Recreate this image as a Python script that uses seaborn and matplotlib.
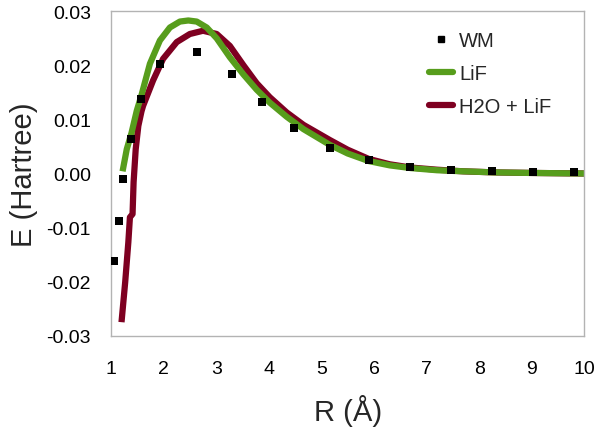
import matplotlib
matplotlib.use("Agg")
import matplotlib.pyplot as plt
import seaborn as sns
import pandas as pd
from matplotlib.lines import Line2D

# WM reference points
wm_r = [1.063, 1.152, 1.234, 1.375, 1.566, 1.933, 2.644, 3.30, 3.87, 4.486, 5.16,
        5.914, 6.68, 7.47, 8.25, 9.03, 9.81]
wm_e = [-0.0162, -0.0087, -0.0011, 0.0063, 0.0137, 0.0203, 0.0225, 0.0184, 0.0132,
        0.0085, 0.0048, 0.0025, 0.0012, 0.0006, 0.0004, 0.0003, 0.0002]

# LiF curve
lif_r = [1.22, 1.30, 1.39, 1.49, 1.58, 1.74, 1.93, 2.12, 2.31, 2.47, 2.63, 2.82,
         3.01, 3.26, 3.52, 3.77, 4.02, 4.34, 4.66, 5.16, 5.5, 5.9, 6.3, 6.7,
         7.2, 7.7, 8.3, 9.0, 10.0]
lif_e = [0.0004, 0.0045, 0.0075, 0.0116, 0.0145, 0.0203, 0.0246, 0.0270, 0.0281,
         0.0283, 0.0281, 0.0270, 0.0250, 0.0215, 0.0183, 0.0155, 0.0131, 0.0105,
         0.0082, 0.0053, 0.0037, 0.0023, 0.0015, 0.0010, 0.0006, 0.0004, 0.0002,
         0.0001, 0.0000]

# H2O + LiF curve
h2o_r = [1.20, 1.27, 1.33, 1.36, 1.41, 1.43, 1.47, 1.52, 1.58, 1.61, 1.80, 1.99,
         2.25, 2.50, 2.75, 3.01, 3.26, 3.52, 3.77, 4.02, 4.34, 4.66, 5.16, 5.5,
         5.9, 6.3, 6.7, 7.2, 7.7, 8.3, 9.0, 10.0]
h2o_e = [-0.0275, -0.0201, -0.0127, -0.0081, -0.0075, -0.0016, 0.0045, 0.0088,
         0.0115, 0.0125, 0.0172, 0.0212, 0.0243, 0.0258, 0.0264, 0.0258, 0.0236,
         0.0200, 0.0167, 0.0141, 0.0113, 0.0090, 0.0062, 0.0044, 0.0027, 0.0017,
         0.0011, 0.0007, 0.0004, 0.0002, 0.0001, 0.0000]

x_ticks = [1, 2, 3, 4, 5, 6, 7, 8, 9, 10]
y_ticks = [-0.03, -0.02, -0.01, 0.0, 0.01, 0.02, 0.03]
y_tick_labels = ["-0.03", "-0.02", "-0.01", "0.00", "0.01", "0.02", "0.03"]

GREEN = "#579d1c"
RED = "#7e0021"
GRAY = "#b3b3b3"

sns.set_style("white")
plt.rcParams["font.family"] = ["Liberation Sans", "DejaVu Sans"]

fig = plt.figure(figsize=(5.98, 4.31), dpi=100)
ax = fig.add_axes([0.1856, 0.2188, 0.7915, 0.7527])

df_lif = pd.DataFrame({"R": lif_r, "E": lif_e})
df_h2o = pd.DataFrame({"R": h2o_r, "E": h2o_e})
df_wm = pd.DataFrame({"R": wm_r, "E": wm_e})

sns.lineplot(data=df_lif, x="R", y="E", ax=ax, color=GREEN, lw=4.5,
             sort=False, estimator=None, solid_capstyle="butt")
sns.lineplot(data=df_h2o, x="R", y="E", ax=ax, color=RED, lw=4.5,
             sort=False, estimator=None, solid_capstyle="butt", zorder=1.9)
sns.scatterplot(data=df_wm, x="R", y="E", ax=ax, color="black", marker="s",
                s=26, linewidth=0, zorder=3)

ax.set_xlim(1, 10)
ax.set_ylim(-0.03, 0.03)
ax.set_xticks(x_ticks)
ax.set_xticklabels([str(t) for t in x_ticks])
ax.set_yticks(y_ticks)
ax.set_yticklabels(y_tick_labels)
ax.tick_params(axis="both", direction="out", length=7.5, width=1, color=GRAY,
               labelsize=14, labelcolor="black")
ax.tick_params(axis="x", pad=10)
ax.tick_params(axis="y", pad=7)
for sp in ax.spines.values():
    sp.set_color(GRAY)
    sp.set_linewidth(1)

ax.set_xlabel("R (Å)", fontsize=21, labelpad=12)
ax.set_ylabel("E (Hartree)", fontsize=21, labelpad=6)

handles = [
    Line2D([], [], color="black", marker="s", markersize=5, linestyle="none"),
    Line2D([], [], color=GREEN, lw=4.5),
    Line2D([], [], color=RED, lw=4.5),
]
ax.legend(handles, ["WM", "LiF", "H2O + LiF"], loc="upper left",
          bbox_to_anchor=(0.672, 0.938), frameon=False, fontsize=14.5,
          handlelength=1.2, handletextpad=0.3, labelspacing=0.68,
          borderpad=0, borderaxespad=0)

fig.savefig("out.png", dpi=100)
